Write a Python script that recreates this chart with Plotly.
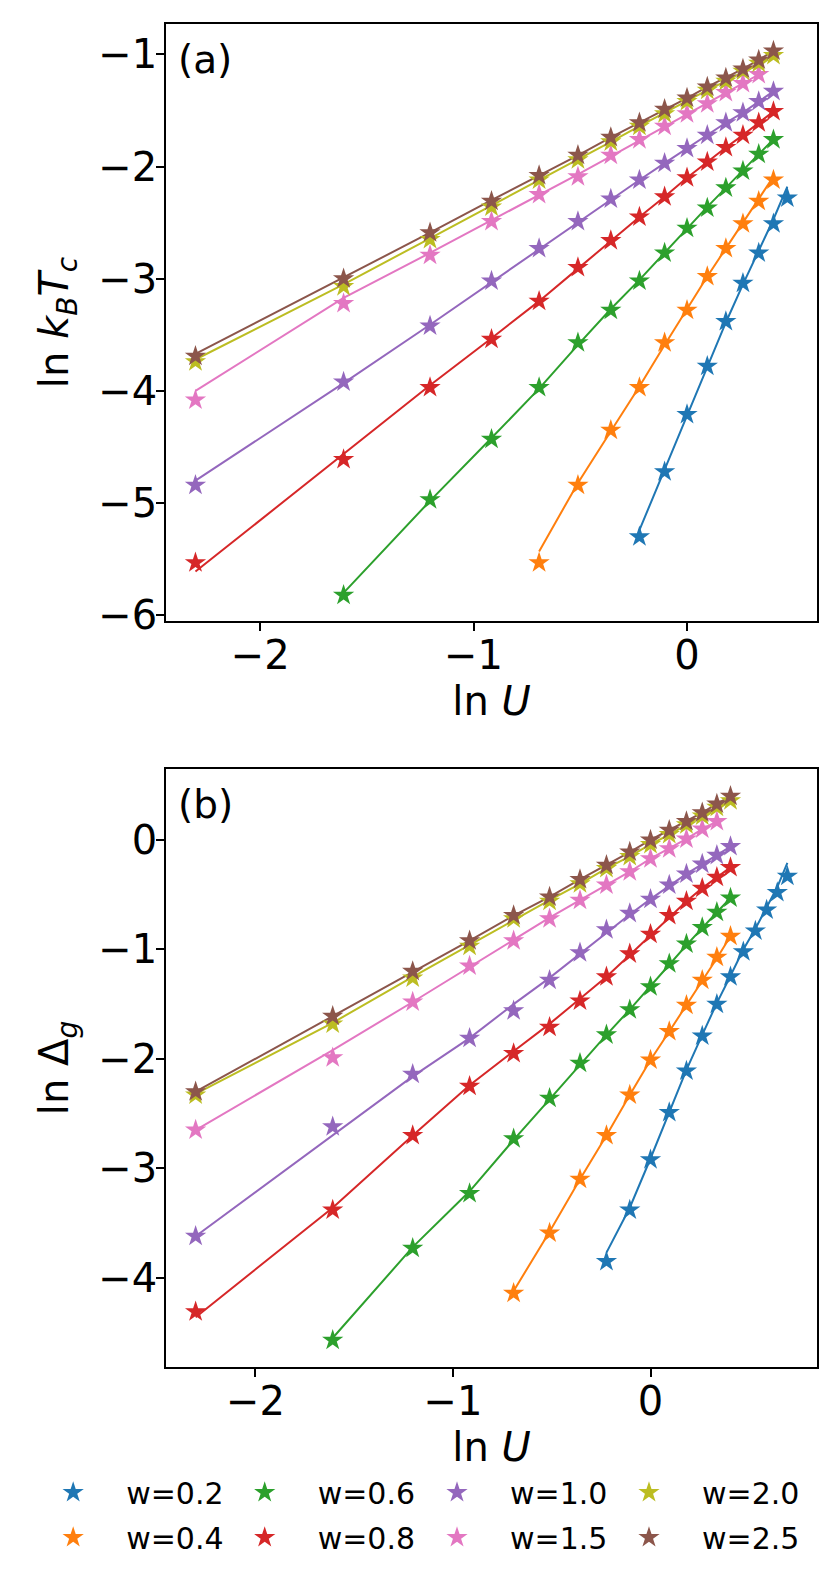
import plotly.graph_objects as go

# ln U grid shared by every series (U = 0.1 ... 2.0)
LN_U = [-2.303, -1.609, -1.204, -0.916, -0.693, -0.511, -0.357, -0.223, -0.105, 0.0,
        0.095, 0.182, 0.262, 0.336, 0.405, 0.470, 0.531, 0.588, 0.642, 0.693]

W_LABELS = ["w=0.2", "w=0.4", "w=0.6", "w=0.8", "w=1.0", "w=1.5", "w=2.0", "w=2.5"]
COLORS = ["#1f77b4", "#ff7f0e", "#2ca02c", "#d62728", "#9467bd", "#e377c2", "#bcbd22", "#8c564b"]

# index in LN_U where each series starts
START_A = [7, 4, 1, 0, 0, 0, 0, 0]
START_B = [7, 4, 1, 0, 0, 0, 0, 0]

# (a) ln k_B T_c : data (stars) and fit (lines)
TC_W02 = [-5.30, -4.72, -4.21, -3.78, -3.38, -3.04, -2.77, -2.51, -2.28]
TC_W04 = [-5.53, -4.84, -4.35, -3.97, -3.57, -3.28, -2.98, -2.73, -2.51, -2.31, -2.12]
TC_W06 = [-5.82, -4.97, -4.43, -3.97, -3.57, -3.28, -3.02, -2.77, -2.55, -2.37, -2.19, -2.04, -1.89, -1.76]
TC_W08 = [-5.53, -4.61, -3.97, -3.54, -3.20, -2.90, -2.66, -2.45, -2.27, -2.10, -1.96, -1.83, -1.72, -1.61, -1.51]
TC_W10 = [-4.84, -3.92, -3.42, -3.02, -2.73, -2.49, -2.29, -2.12, -1.97, -1.84, -1.72, -1.61, -1.52, -1.42, -1.33]
TC_W15 = [-4.08, -3.22, -2.79, -2.49, -2.25, -2.09, -1.90, -1.76, -1.64, -1.53, -1.44, -1.34, -1.26, -1.18]
TC_W20 = [-3.74, -3.07, -2.65, -2.36, -2.12, -1.94, -1.78, -1.64, -1.53, -1.42, -1.32, -1.24, -1.15, -1.08, -1.01]
TC_W25 = [-3.69, -3.00, -2.59, -2.31, -2.08, -1.90, -1.74, -1.61, -1.49, -1.39, -1.29, -1.21, -1.13, -1.05, -0.97]

TC_FIT_W02 = [-5.24, -4.70, -4.21, -3.79, -3.39, -3.05, -2.75, -2.47, -2.18]
TC_FIT_W04 = [-5.43, -4.82, -4.36, -3.96, -3.59, -3.27, -2.98, -2.73, -2.50, -2.29, -2.09]
TC_FIT_W06 = [-5.80, -4.98, -4.42, -3.98, -3.59, -3.27, -3.01, -2.77, -2.55, -2.36, -2.19, -2.03, -1.89, -1.76]
TC_FIT_W08 = [-5.61, -4.56, -3.95, -3.53, -3.20, -2.91, -2.66, -2.45, -2.27, -2.10, -1.96, -1.83, -1.72, -1.61, -1.51]
TC_FIT_W10 = [-4.80, -3.93, -3.41, -3.03, -2.74, -2.50, -2.29, -2.12, -1.97, -1.84, -1.72, -1.61, -1.52, -1.42, -1.33]
TC_FIT_W15 = [-4.00, -3.17, -2.77, -2.48, -2.26, -2.07, -1.91, -1.77, -1.65, -1.54, -1.44, -1.35, -1.26, -1.18]
TC_FIT_W20 = [-3.72, -3.05, -2.64, -2.35, -2.12, -1.94, -1.78, -1.64, -1.52, -1.42, -1.32, -1.24, -1.16, -1.08, -1.01]
TC_FIT_W25 = [-3.67, -2.99, -2.59, -2.30, -2.08, -1.90, -1.74, -1.61, -1.49, -1.39, -1.29, -1.21, -1.13, -1.05, -0.97]

# (b) ln Delta_g : data (stars) and fit (lines)
GAP_W02 = [-3.85, -3.38, -2.92, -2.49, -2.11, -1.79, -1.50, -1.25, -1.02, -0.83, -0.64, -0.48, -0.33]
GAP_W04 = [-4.14, -3.59, -3.10, -2.70, -2.33, -2.01, -1.75, -1.51, -1.28, -1.07, -0.88]
GAP_W06 = [-4.57, -3.73, -3.23, -2.73, -2.36, -2.04, -1.78, -1.55, -1.34, -1.13, -0.95, -0.80, -0.66, -0.53]
GAP_W08 = [-4.31, -3.38, -2.70, -2.25, -1.95, -1.71, -1.47, -1.25, -1.04, -0.86, -0.69, -0.56, -0.44, -0.34, -0.25]
GAP_W10 = [-3.62, -2.62, -2.14, -1.81, -1.56, -1.28, -1.03, -0.82, -0.67, -0.54, -0.41, -0.31, -0.22, -0.14, -0.06]
GAP_W15 = [-2.65, -1.99, -1.48, -1.15, -0.92, -0.72, -0.55, -0.41, -0.29, -0.17, -0.08, 0.01, 0.10, 0.17]
GAP_W20 = [-2.33, -1.68, -1.26, -0.97, -0.72, -0.56, -0.40, -0.26, -0.15, -0.04, 0.05, 0.14, 0.22, 0.30, 0.36]
GAP_W25 = [-2.30, -1.61, -1.20, -0.92, -0.69, -0.52, -0.36, -0.23, -0.11, 0.00, 0.09, 0.17, 0.25, 0.33, 0.40]

GAP_FIT_W02 = [-3.77, -3.36, -2.91, -2.49, -2.10, -1.78, -1.49, -1.24, -1.00, -0.81, -0.62, -0.43, -0.21]
GAP_FIT_W04 = [-4.12, -3.58, -3.10, -2.70, -2.33, -2.01, -1.75, -1.51, -1.28, -1.08, -0.88]
GAP_FIT_W06 = [-4.55, -3.72, -3.21, -2.74, -2.37, -2.05, -1.78, -1.55, -1.34, -1.14, -0.96, -0.80, -0.66, -0.53]
GAP_FIT_W08 = [-4.36, -3.36, -2.70, -2.24, -1.93, -1.68, -1.45, -1.25, -1.05, -0.87, -0.70, -0.56, -0.44, -0.34, -0.25]
GAP_FIT_W10 = [-3.62, -2.70, -2.16, -1.81, -1.50, -1.26, -1.04, -0.84, -0.68, -0.54, -0.42, -0.31, -0.22, -0.14, -0.06]
GAP_FIT_W15 = [-2.65, -1.92, -1.48, -1.16, -0.91, -0.71, -0.55, -0.41, -0.29, -0.17, -0.08, 0.01, 0.10, 0.17]
GAP_FIT_W20 = [-2.32, -1.67, -1.25, -0.96, -0.73, -0.55, -0.40, -0.26, -0.15, -0.04, 0.05, 0.14, 0.22, 0.29, 0.36]
GAP_FIT_W25 = [-2.30, -1.61, -1.20, -0.92, -0.69, -0.52, -0.36, -0.23, -0.11, 0.00, 0.09, 0.17, 0.25, 0.33, 0.40]

TC_DATA = [TC_W02, TC_W04, TC_W06, TC_W08, TC_W10, TC_W15, TC_W20, TC_W25]
TC_FIT = [TC_FIT_W02, TC_FIT_W04, TC_FIT_W06, TC_FIT_W08, TC_FIT_W10, TC_FIT_W15, TC_FIT_W20, TC_FIT_W25]
GAP_DATA = [GAP_W02, GAP_W04, GAP_W06, GAP_W08, GAP_W10, GAP_W15, GAP_W20, GAP_W25]
GAP_FIT = [GAP_FIT_W02, GAP_FIT_W04, GAP_FIT_W06, GAP_FIT_W08, GAP_FIT_W10, GAP_FIT_W15, GAP_FIT_W20, GAP_FIT_W25]

FONT = "DejaVu Sans"
# legend laid out like matplotlib ncol=4: two entries per column
LEGEND_COLUMN = ["legend", "legend", "legend2", "legend2", "legend3", "legend3", "legend4", "legend4"]

fig = go.Figure()


def add_panel(data, fits, starts, xa, ya, legend_on):
    for i in range(len(data)):
        x = LN_U[starts[i]:starts[i] + len(fits[i])]
        fig.add_trace(go.Scatter(
            x=x, y=fits[i], mode="lines", xaxis=xa, yaxis=ya,
            line=dict(color=COLORS[i], width=2), showlegend=False, hoverinfo="skip",
        ))
    for i in range(len(data)):
        x = LN_U[starts[i]:starts[i] + len(data[i])]
        star = go.Scatter(
            x=x, y=data[i], mode="markers", xaxis=xa, yaxis=ya, name=W_LABELS[i],
            marker=dict(symbol="star", size=16, color=COLORS[i], line=dict(width=0)),
            showlegend=legend_on, legend=LEGEND_COLUMN[i],
        )
        if legend_on:
            star.legendgroup = W_LABELS[i]
        fig.add_trace(star)


add_panel(TC_DATA, TC_FIT, START_A, "x", "y", True)
add_panel(GAP_DATA, GAP_FIT, START_B, "x2", "y2", False)

axis_style = dict(
    showline=True, mirror=True, linecolor="black", linewidth=1.6, automargin=False,
    ticks="outside", ticklen=8, tickwidth=1.6, tickcolor="black",
    showgrid=False, zeroline=False, tickfont=dict(family=FONT, size=40, color="black"),
)
x_style = dict(axis_style, ticklabelstandoff=-10)
y_style = dict(axis_style, ticklabelstandoff=-9)
title_font = dict(family=FONT, size=40, color="black")

# legends stay inside the figure (12 px autoMargin pad) so the plot area is not pushed
legend_style = dict(
    orientation="v", xanchor="left", yanchor="middle",
    y=-0.1101, font=dict(family=FONT, size=30, color="black"), itemwidth=96,
    itemsizing="trace", tracegroupgap=3, bgcolor="rgba(0,0,0,0)",
)

fig.update_layout(
    width=830, height=1577,
    margin=dict(l=158, r=21, t=16, b=218),
    plot_bgcolor="white", paper_bgcolor="white",
    font=dict(family=FONT, color="black"),
    xaxis=dict(x_style, domain=[0, 1], anchor="y", range=[-2.441, 0.609], tickvals=[-2, -1, 0],
               title=dict(text="ln <i>U</i>", font=title_font, standoff=0)),
    yaxis=dict(y_style, domain=[0.5555, 1], anchor="x", range=[-6.05, -0.73],
               tickvals=[-6, -5, -4, -3, -2, -1],
               title=dict(text="ln <i>k</i><sub><i>B</i></sub><i>T</i><sub><i>c</i></sub>",
                          font=title_font, standoff=17)),
    xaxis2=dict(x_style, domain=[0, 1], anchor="y2", range=[-2.453, 0.843], tickvals=[-2, -1, 0],
                title=dict(text="ln <i>U</i>", font=title_font, standoff=0)),
    yaxis2=dict(y_style, domain=[0, 0.4453], anchor="x2", range=[-4.815, 0.649],
                tickvals=[-4, -3, -2, -1, 0],
                title=dict(text="ln Δ<sub><i>g</i></sub>", font=title_font, standoff=17)),
    legend=dict(legend_style, x=-0.2240),
    legend2=dict(legend_style, x=0.0702),
    legend3=dict(legend_style, x=0.3656),
    legend4=dict(legend_style, x=0.6605),
    annotations=[
        dict(text="(a)", xref="x domain", yref="y domain", x=0.016, y=0.941,
             xanchor="left", yanchor="middle", showarrow=False,
             font=dict(family=FONT, size=39, color="black")),
        dict(text="(b)", xref="x2 domain", yref="y2 domain", x=0.016, y=0.941,
             xanchor="left", yanchor="middle", showarrow=False,
             font=dict(family=FONT, size=39, color="black")),
    ],
)

fig.write_html("out.html")
